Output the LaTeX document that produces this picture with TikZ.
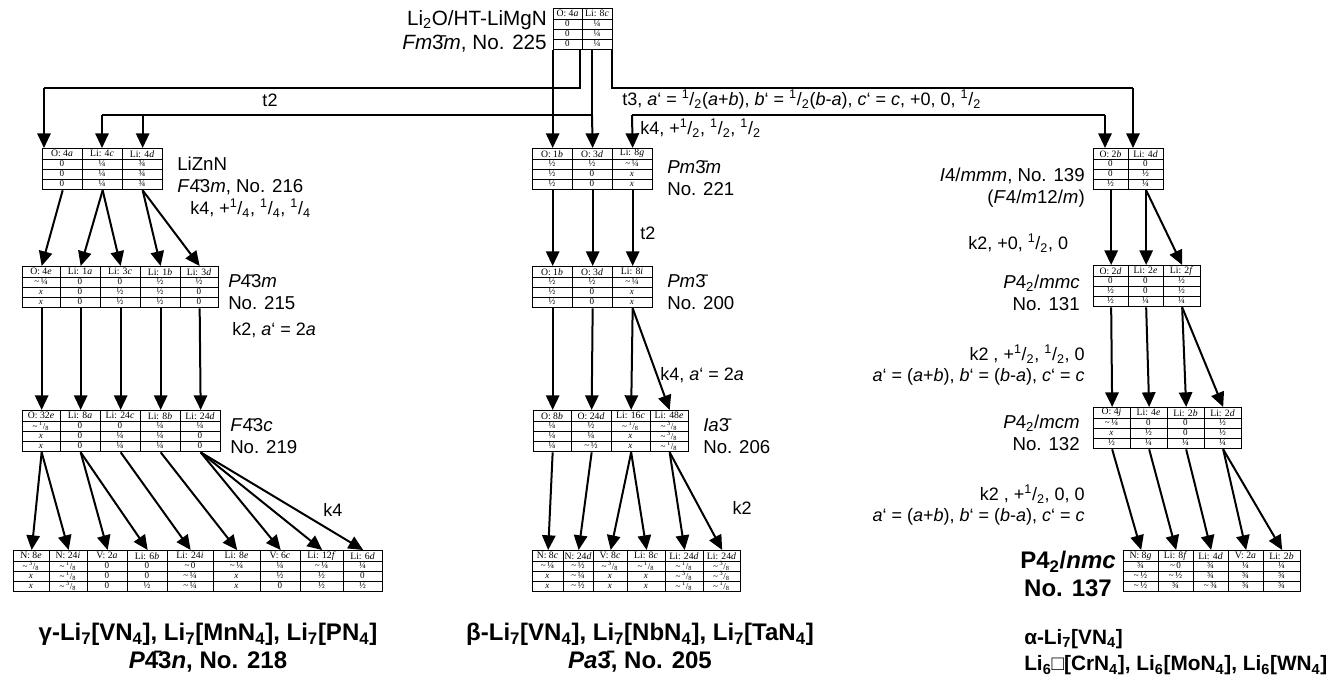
\documentclass[tikz,border=0pt]{standalone}
\usepackage{fontspec}
\setmainfont{Liberation Sans}
\newfontfamily\tfont{Liberation Serif}
\usetikzlibrary{arrows.meta}
\newcommand\fr[2]{\textsuperscript{#1}/\textsubscript{#2}}
\newcommand\ob[1]{\={#1}}
\newcommand\tl{\char"7E\,}
\tikzset{
 rl/.style={line width=0.6pt},
 colbox/.style={draw, line width=1pt, inner sep=0, anchor=north west},
 hd/.style={font=\tfont\fontsize{7.3}{8}\selectfont, inner sep=0},
 vl/.style={font=\tfont\fontsize{6.8}{7}\selectfont, inner sep=0},
 arr/.style={line width=1.5pt, -{Triangle[length=11pt,width=10pt]}},
 ln/.style={line width=1.5pt},
 lab/.style={font=\fontsize{14}{16.5}\selectfont, inner sep=0, align=left},
 blab/.style={font=\bfseries\fontsize{18}{21}\selectfont, inner sep=0, align=center},
 klab/.style={font=\fontsize{13.5}{16}\selectfont, inner sep=0},
}
% name, xl, xr, ytop, header, r1, r2, r3
\newcommand\tcol[8]{%
 \node[colbox, minimum width={(#3-#2)*0.75pt}, minimum height={41*0.75pt}] (#1) at (#2,#4) {};
 \draw[rl] (#2,#4+11) -- (#3,#4+11) (#2,#4+21) -- (#3,#4+21) (#2,#4+31) -- (#3,#4+31);
 \node[hd] (#1h) at ({(#2+#3)/2},#4+5.8) {#5};
 \node[vl] (#1a) at ({(#2+#3)/2},#4+16) {#6};
 \node[vl] (#1b) at ({(#2+#3)/2},#4+26) {#7};
 \node[vl] (#1c) at ({(#2+#3)/2},#4+36) {#8};
}
\begin{document}
\begin{tikzpicture}[x=0.75pt,y=-0.75pt]
\useasboundingbox (0,0) rectangle (1343,681);
% ---------- tables
\tcol{t1}{553}{582}{8}{O: 4\textit{a}}{0}{0}{0}
\tcol{t2}{582}{612}{8}{Li: 8\textit{c}}{¼}{¼}{¼}

\tcol{lz1}{42}{82}{148}{O: 4\textit{a}}{0}{0}{0}
\tcol{lz2}{82}{122}{148}{Li: 4\textit{c}}{¼}{¼}{¼}
\tcol{lz3}{122}{162}{148}{Li: 4\textit{d}}{¾}{¾}{¾}

\tcol{pm1}{532}{572}{148}{O: 1\textit{b}}{½}{½}{½}
\tcol{pm2}{572}{612}{148}{O: 3\textit{d}}{½}{0}{0}
\tcol{pm3}{612}{652}{148}{Li: 8\textit{g}}{\tl¼}{\textit{x}}{\textit{x}}

\tcol{im1}{1093}{1128}{148}{O: 2\textit{b}}{0}{0}{½}
\tcol{im2}{1128}{1163}{148}{Li: 4\textit{d}}{0}{½}{¼}

\tcol{pa1}{22}{60}{266}{O: 4\textit{e}}{\tl¼}{\textit{x}}{\textit{x}}
\tcol{pa2}{60}{100}{266}{Li: 1\textit{a}}{0}{0}{0}
\tcol{pa3}{100}{140}{266}{Li: 3\textit{c}}{0}{½}{½}
\tcol{pa4}{140}{180}{266}{Li: 1\textit{b}}{½}{½}{½}
\tcol{pa5}{180}{218}{266}{Li: 3\textit{d}}{½}{0}{0}

\tcol{pb1}{532}{572}{266}{O: 1\textit{b}}{½}{½}{½}
\tcol{pb2}{572}{612}{266}{O: 3\textit{d}}{½}{0}{0}
\tcol{pb3}{612}{652}{266}{Li: 8\textit{i}}{\tl¼}{\textit{x}}{\textit{x}}

\tcol{mc1}{1093}{1128}{265}{O: 2\textit{d}}{0}{½}{½}
\tcol{mc2}{1128}{1163}{265}{Li: 2\textit{e}}{0}{0}{¼}
\tcol{mc3}{1163}{1200}{265}{Li: 2\textit{f}}{½}{½}{¼}

\tcol{fa1}{22}{60}{410}{O: 32\textit{e}}{\tl\fr{1}{8}}{\textit{x}}{\textit{x}}
\tcol{fa2}{60}{100}{410}{Li: 8\textit{a}}{0}{0}{0}
\tcol{fa3}{100}{140}{410}{Li: 24\textit{c}}{0}{¼}{¼}
\tcol{fa4}{140}{180}{410}{Li: 8\textit{b}}{¼}{¼}{¼}
\tcol{fa5}{180}{220}{410}{Li: 24\textit{d}}{¼}{0}{0}

\tcol{ia1}{533}{571}{410}{O: 8\textit{b}}{¼}{¼}{¼}
\tcol{ia2}{571}{611}{410}{O: 24\textit{d}}{½}{¼}{\tl½}
\tcol{ia3}{611}{650}{410}{Li: 16\textit{c}}{\tl\fr{1}{8}}{\textit{x}}{\textit{x}}
\tcol{ia4}{650}{688}{410}{Li: 48\textit{e}}{\tl\fr{3}{8}}{\tl\fr{3}{8}}{\tl\fr{1}{8}}

\tcol{mm1}{1093}{1130}{407}{O: 4\textit{j}}{\tl¼}{\textit{x}}{½}
\tcol{mm2}{1130}{1167}{407}{Li: 4\textit{e}}{0}{½}{¼}
\tcol{mm3}{1167}{1204}{407}{Li: 2\textit{b}}{0}{0}{¼}
\tcol{mm4}{1204}{1241}{407}{Li: 2\textit{d}}{½}{½}{¼}

\tcol{ga1}{13}{49}{550}{N: 8\textit{e}}{\tl\fr{3}{8}}{\textit{x}}{\textit{x}}
\tcol{ga2}{49}{87}{550}{N: 24\textit{i}}{\tl\fr{1}{8}}{\tl\fr{1}{8}}{\tl\fr{3}{8}}
\tcol{ga3}{87}{127}{550}{V: 2\textit{a}}{0}{0}{0}
\tcol{ga4}{127}{167}{550}{Li: 6\textit{b}}{0}{0}{½}
\tcol{ga5}{167}{213}{550}{Li: 24\textit{i}}{\tl0}{\tl¼}{\tl¼}
\tcol{ga6}{213}{260}{550}{Li: 8\textit{e}}{\tl¼}{\textit{x}}{\textit{x}}
\tcol{ga7}{260}{300}{550}{V: 6\textit{c}}{¼}{½}{0}
\tcol{ga8}{300}{343}{550}{Li: 12\textit{f}}{\tl¼}{½}{½}
\tcol{ga9}{343}{382}{550}{Li: 6\textit{d}}{¼}{0}{½}

\tcol{be1}{532}{563}{550}{N: 8\textit{c}}{\tl¼}{\textit{x}}{\textit{x}}
\tcol{be2}{563}{593}{550}{N: 24\textit{d}}{\tl½}{\tl¼}{\tl½}
\tcol{be3}{593}{627}{550}{V: 8\textit{c}}{\tl\fr{3}{8}}{\textit{x}}{\textit{x}}
\tcol{be4}{627}{665}{550}{Li: 8\textit{c}}{\tl\fr{1}{8}}{\textit{x}}{\textit{x}}
\tcol{be5}{665}{703}{550}{Li: 24\textit{d}}{\tl\fr{1}{8}}{\tl\fr{3}{8}}{\tl\fr{1}{8}}
\tcol{be6}{703}{740}{550}{Li: 24\textit{d}}{\tl\fr{3}{8}}{\tl\fr{3}{8}}{\tl\fr{1}{8}}

\tcol{al1}{1123}{1158}{550}{N: 8\textit{g}}{¾}{\tl½}{\tl½}
\tcol{al2}{1158}{1193}{550}{Li: 8\textit{f}}{\tl0}{\tl½}{¾}
\tcol{al3}{1193}{1228}{550}{Li: 4\textit{d}}{¾}{¾}{\tl¾}
\tcol{al4}{1228}{1263}{550}{V: 2\textit{a}}{¼}{¾}{¾}
\tcol{al5}{1263}{1300}{550}{Li: 2\textit{b}}{¼}{¾}{¾}

% ---------- labels
\node[lab, font=\fontsize{15.5}{18}\selectfont, anchor=east, align=right] (L0) at (547,31) {Li\textsubscript{2}O/HT-LiMgN\\\textit{Fm}\ob{3}\textit{m}, No. 225};
\node[lab, anchor=west] (L1) at (177,176) {LiZnN\\\textit{F}\ob{4}3\textit{m}, No. 216};
\node[lab, anchor=west] (L2) at (667,178) {\textit{Pm}\ob{3}\textit{m}\\No. 221};
\node[lab, anchor=east, align=right] (L3) at (1085,188) {\textit{I}4/\textit{mmm}, No. 139\\(\textit{F}4/\textit{m}12/\textit{m})};
\node[lab, anchor=west] (L4) at (228,292) {\textit{P}\ob{4}3\textit{m}\\No. 215};
\node[lab, anchor=west] (L5) at (667,292) {\textit{Pm}\ob{3}\\No. 200};
\node[lab, anchor=east, align=right] (L6) at (1080,293) {\textit{P}4\textsubscript{2}/\textit{mmc}\\No. 131};
\node[lab, anchor=west] (L7) at (230,436) {\textit{F}\ob{4}3\textit{c}\\No. 219};
\node[lab, anchor=west] (L8) at (703,436) {\textit{Ia}\ob{3}\\No. 206};
\node[lab, anchor=east, align=right] (L9) at (1080,433) {\textit{P}4\textsubscript{2}/\textit{mcm}\\No. 132};
\node[blab] (L10) at (1068,574) {P4\textsubscript{2}/\textit{nmc}\\No. 137};
\node[blab] (L11) at (208,648) {γ-Li\textsubscript{7}[VN\textsubscript{4}], Li\textsubscript{7}[MnN\textsubscript{4}], Li\textsubscript{7}[PN\textsubscript{4}]\\\textit{P}\ob{4}3\textit{n}, No. 218};
\node[blab] (L12) at (640,648) {β-Li\textsubscript{7}[VN\textsubscript{4}], Li\textsubscript{7}[NbN\textsubscript{4}], Li\textsubscript{7}[TaN\textsubscript{4}]\\\textit{Pa}\ob{3}, No. 205};
\node[blab, font=\bfseries\fontsize{15.6}{20}\selectfont, anchor=west, align=left] (L13) at (1024,652) {α-Li\textsubscript{7}[VN\textsubscript{4}]\\Li\textsubscript{6}□[CrN\textsubscript{4}], Li\textsubscript{6}[MoN\textsubscript{4}], Li\textsubscript{6}[WN\textsubscript{4}]};

% k labels
\node[klab] (K1) at (270,100) {t2};
\node[klab, anchor=west] (K2) at (622,100) {t3, \textit{a}‘ = \fr{1}{2}(\textit{a}+\textit{b}), \textit{b}‘ = \fr{1}{2}(\textit{b}-\textit{a}), \textit{c}‘ = \textit{c}, +0, 0, \fr{1}{2}};
\node[klab, anchor=west] (K3) at (640,128) {k4, +\fr{1}{2}, \fr{1}{2}, \fr{1}{2}};
\node[klab, anchor=west] (K4) at (190,208) {k4, +\fr{1}{4}, \fr{1}{4}, \fr{1}{4}};
\node[klab, anchor=west] (K5) at (640,233) {t2};
\node[klab, anchor=west] (K6) at (968,243) {k2, +0, \fr{1}{2}, 0};
\node[klab, anchor=west] (K7) at (232,330) {k2, \textit{a}‘ = 2\textit{a}};
\node[klab, anchor=west] (K8) at (660,375) {k4, \textit{a}‘ = 2\textit{a}};
\node[klab, anchor=east, align=right] (K9) at (1085,365) {k2 , +\fr{1}{2}, \fr{1}{2}, 0\\\textit{a}‘ = (\textit{a}+\textit{b}), \textit{b}‘ = (\textit{b}-\textit{a}), \textit{c}‘ = \textit{c}};
\node[klab, anchor=east, align=right] (K10) at (1085,505) {k2 , +\fr{1}{2}, 0, 0\\\textit{a}‘ = (\textit{a}+\textit{b}), \textit{b}‘ = (\textit{b}-\textit{a}), \textit{c}‘ = \textit{c}};
\node[klab] (K11) at (333,510) {k4};
\node[klab] (K12) at (742,508) {k2};

% ---------- connectors from top
\coordinate (j1) at (580,88);
\coordinate (j2) at (44,88);
\draw[ln] (t1.south -| j1) -- (j1) -- (j2);
\draw[arr] (j2) -- (j2 |- lz1.north);
\coordinate (j3) at (592,115);
\coordinate (j4) at (102,115);
\draw[ln] (j3 |- t2.south) -- (j3) -- (j4 -| lz3.north) -- (j4);
\draw[arr] (j4) -- (j4 |- lz2.north);
\draw[arr] (j4 -| lz3.north) -- (lz3.north);
\draw[arr] (pm1.north |- t1.south) -- (pm1.north);
\draw[arr] (j3) -- (pm2.north);
\coordinate (j5) at (612,88);
\coordinate (j6) at (1133,88);
\draw[ln] (j5 |- t2.south) -- (j5) -- (j6);
\draw[arr] (j6) -- (j6 |- im1.north);
\coordinate (j7) at (632,115);
\coordinate (j8) at (1105,115);
\draw[ln] (j7) -- (j8);
\draw[arr] (j8) -- (j8 |- im1.north);
\draw[arr] (j7) -- (pm3.north);

% ---------- left branch
\draw[arr] (lz1.south) -- (pa1.north);
\draw[arr] (lz2.south) -- (pa2.north);
\draw[arr] (lz2.south) -- (pa3.north);
\draw[arr] (lz3.south) -- (pa4.north);
\draw[arr] (lz3.south) -- (pa5.north);
\foreach \i in {1,...,5} \draw[arr] (pa\i.south) -- (fa\i.north);
\draw[arr] (fa1.south) -- (ga1.north);
\draw[arr] (fa1.south) -- (ga2.north);
\draw[arr] (fa2.south) -- (ga3.north);
\draw[arr] (fa2.south) -- (ga4.north);
\draw[arr] (fa3.south) -- (ga5.north);
\draw[arr] (fa4.south) -- (ga6.north);
\draw[arr] (fa5.south) -- (ga7.north);
\draw[arr] (fa5.south) -- (ga8.north);
\draw[arr] (fa5.south) -- (ga9.north);

% ---------- middle branch
\foreach \i in {1,2,3} \draw[arr] (pm\i.south) -- (pb\i.north);
\draw[arr] (pb1.south) -- (ia1.north);
\draw[arr] (pb2.south) -- (ia2.north);
\draw[arr] (pb3.south) -- (ia3.north);
\draw[arr] (pb3.south) -- (ia4.north);
\draw[arr] (ia1.south) -- (be1.north);
\draw[arr] (ia2.south) -- (be2.north);
\draw[arr] (ia3.south) -- (be3.north);
\draw[arr] (ia3.south) -- (be4.north);
\draw[arr] (ia4.south) -- (be5.north);
\draw[arr] (ia4.south) -- (be6.north);

% ---------- right branch
\draw[arr] (im1.south) -- (mc1.north);
\draw[arr] (im2.south) -- (mc2.north);
\draw[arr] (im2.south) -- (mc3.north);
\draw[arr] (mc1.south) -- (mm1.north);
\draw[arr] (mc2.south) -- (mm2.north);
\draw[arr] (mc3.south) -- (mm3.north);
\draw[arr] (mc3.south) -- (mm4.north);
\draw[arr] (mm1.south) -- (al1.north);
\draw[arr] (mm2.south) -- (al2.north);
\draw[arr] (mm3.south) -- (al3.north);
\draw[arr] (mm4.south) -- (al4.north);
\draw[arr] (mm4.south) -- (al5.north);
\end{tikzpicture}
\end{document}
